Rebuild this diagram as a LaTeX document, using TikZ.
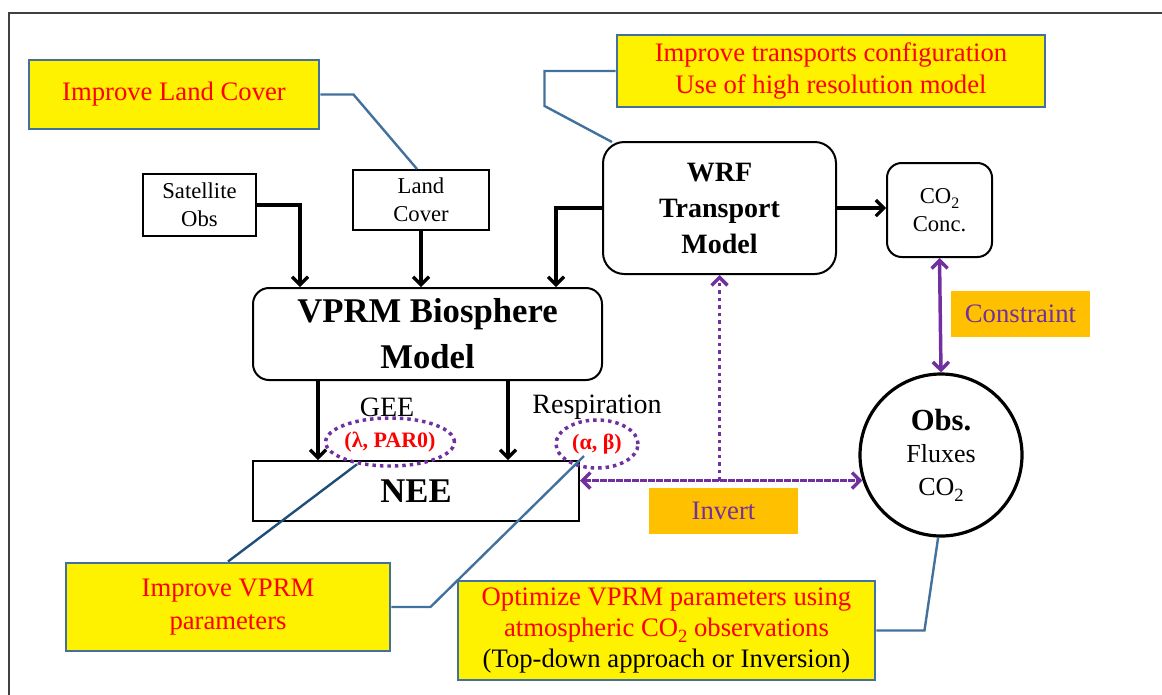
\documentclass[tikz,border=0pt]{standalone}
\usepackage{fontspec}
\setmainfont{Liberation Serif}
\usetikzlibrary{arrows.meta,shapes.geometric,calc}

\definecolor{calloutblue}{HTML}{41719C}
\definecolor{darkblue}{HTML}{1F4E79}
\definecolor{vprmpurple}{HTML}{7030A0}
\definecolor{tagorange}{HTML}{FFC000}
\newcommand{\cotwo}[1]{CO\raisebox{-0.45ex}{\fontsize{#1}{#1}\selectfont 2}}

\begin{document}
\begin{tikzpicture}[x=0.75pt,y=-0.75pt,
  >={Straight Barb[length=6pt,width=12pt]},
  box/.style={draw,line width=1.5pt,inner sep=0pt,align=center,font=\fontsize{17}{21}\selectfont},
  roundbox/.style={box,rounded corners=11pt},
  callout/.style={draw=calloutblue,fill=yellow,line width=2.2pt,inner sep=0pt,align=center,text=red,font=\fontsize{20}{24.5}\selectfont},
  tag/.style={fill=tagorange,inner sep=0pt,text=vprmpurple,font=\fontsize{20}{24}\selectfont},
  param/.style={ellipse,draw=vprmpurple,line width=2.6pt,dash pattern=on 2.6pt off 3pt,inner sep=0pt,text=red,font=\bfseries\fontsize{16.5}{18}\selectfont},
  flow/.style={->,line width=2.4pt},
  link/.style={draw=calloutblue,line width=1.8pt},
  purparrow/.style={draw=vprmpurple,line width=2.6pt}
]
\useasboundingbox (0,0) rectangle (1162,694);
% frame
\draw[line width=1.2pt,black!75] (9,700) -- (9,13) -- (1170,13);

% boxes
\node[callout,minimum width=217.5pt,minimum height=51.75pt] (landcall) at (174,94.5) {Improve Land Cover};
\node[callout,minimum width=321pt,minimum height=54pt] (trancall) at (831,71) {Improve transports configuration\\Use of high resolution model};
\node[box,minimum width=84.75pt,minimum height=46.5pt] (satobs) at (199.5,205) {Satellite\\Obs};
\node[box,minimum width=102pt,minimum height=45pt] (landcov) at (421,200) {Land\\Cover};
\node[roundbox,rounded corners=12pt,minimum width=261.75pt,minimum height=69pt,font=\bfseries\fontsize{26}{34.5}\selectfont] (vprm) at (427.5,334) {VPRM Biosphere\\Model};
\node[roundbox,rounded corners=16pt,minimum width=174.75pt,minimum height=99pt,font=\bfseries\fontsize{21}{27}\selectfont] (wrf) at (719.5,208) {WRF\\Transport\\Model};
\node[roundbox,minimum width=78.75pt,minimum height=70.5pt] (conc) at (939.5,210) {\cotwo{12}\\Conc.};
\node[box,minimum width=244.5pt,minimum height=45pt,font=\bfseries\fontsize{26}{30}\selectfont] (nee) at (416,491) {NEE};
\node[circle,draw,line width=2.4pt,minimum size=121.5pt,inner sep=0pt,align=center,font=\fontsize{19.5}{24.5}\selectfont] (obs) at (941,455) {{\bfseries\fontsize{23}{24.5}\selectfont Obs.}\\Fluxes\\\cotwo{14}};
\node[font=\fontsize{21}{24}\selectfont] (gee) at (387,407) {GEE};
\node[font=\fontsize{21}{24}\selectfont] (resp) at (597,407) {Respiration};
\node[param,minimum width=90pt,minimum height=36pt] (gpar) at (390,442) {(λ, PAR0)};
\node[param,minimum width=61.5pt,minimum height=36pt] (rpar) at (597,444) {(α, β)};
\node[tag,minimum width=104.25pt,minimum height=34.5pt] (constr) at (1020.5,314) {Constraint};
\node[tag,minimum width=111.75pt,minimum height=34.5pt] (invert) at (723.5,511) {Invert};
\node[callout,minimum width=243pt,minimum height=66pt] (vprmcall) at (228,607) {Improve VPRM\\parameters};
\node[callout,minimum width=312.75pt,minimum height=74.25pt,font=\fontsize{20}{23.6}\selectfont] (optcall) at (666.5,630.5) {Optimize VPRM parameters using\\atmospheric \cotwo{14} observations\\\textcolor{black}{(Top-down approach or Inversion)}};

% flows
\draw[flow] (satobs.east) -| ($(vprm.north)+(-127.5,0)$);
\draw[flow] (landcov.south) -- (landcov.south |- vprm.north);
\draw[flow] (wrf.west) -| ($(vprm.north)+(128.5,0)$);
\draw[flow] (wrf.east) -- (wrf.east -| conc.west);
\draw[flow] ($(vprm.south)+(-109.5,0)$) -- ($(nee.north)+(-98,0)$);
\draw[flow] ($(vprm.south)+(80.5,0)$) -- ($(nee.north)+(92,0)$);

% inversion
\draw[purparrow,<->,dash pattern=on 5pt off 1pt] (nee.east |- obs.198) -- (obs.198);
\draw[purparrow,->,dash pattern=on 2.6pt off 3pt] (wrf.south |- obs.198) -- (wrf.south);
\draw[purparrow,<->] (conc.south) -- (obs.north);

% callout links
\draw[link] (landcall.east) -- ++(33,0) -- ($(landcov.north)+(-4,0)$);
\draw[link] (trancall.west) -- ++(-71,0) -- ++(0,35) -- ($(wrf.north west)+(10,1)$);
\draw[link,draw=darkblue] (gpar.214) -- (vprmcall.north);
\draw[link] (vprmcall.east) -- ++(39,0) -- ($(rpar.center)+(-13,12)$);
\draw[link] (optcall.east) -- ++(48,0) -- (obs.268);
\end{tikzpicture}
\end{document}
